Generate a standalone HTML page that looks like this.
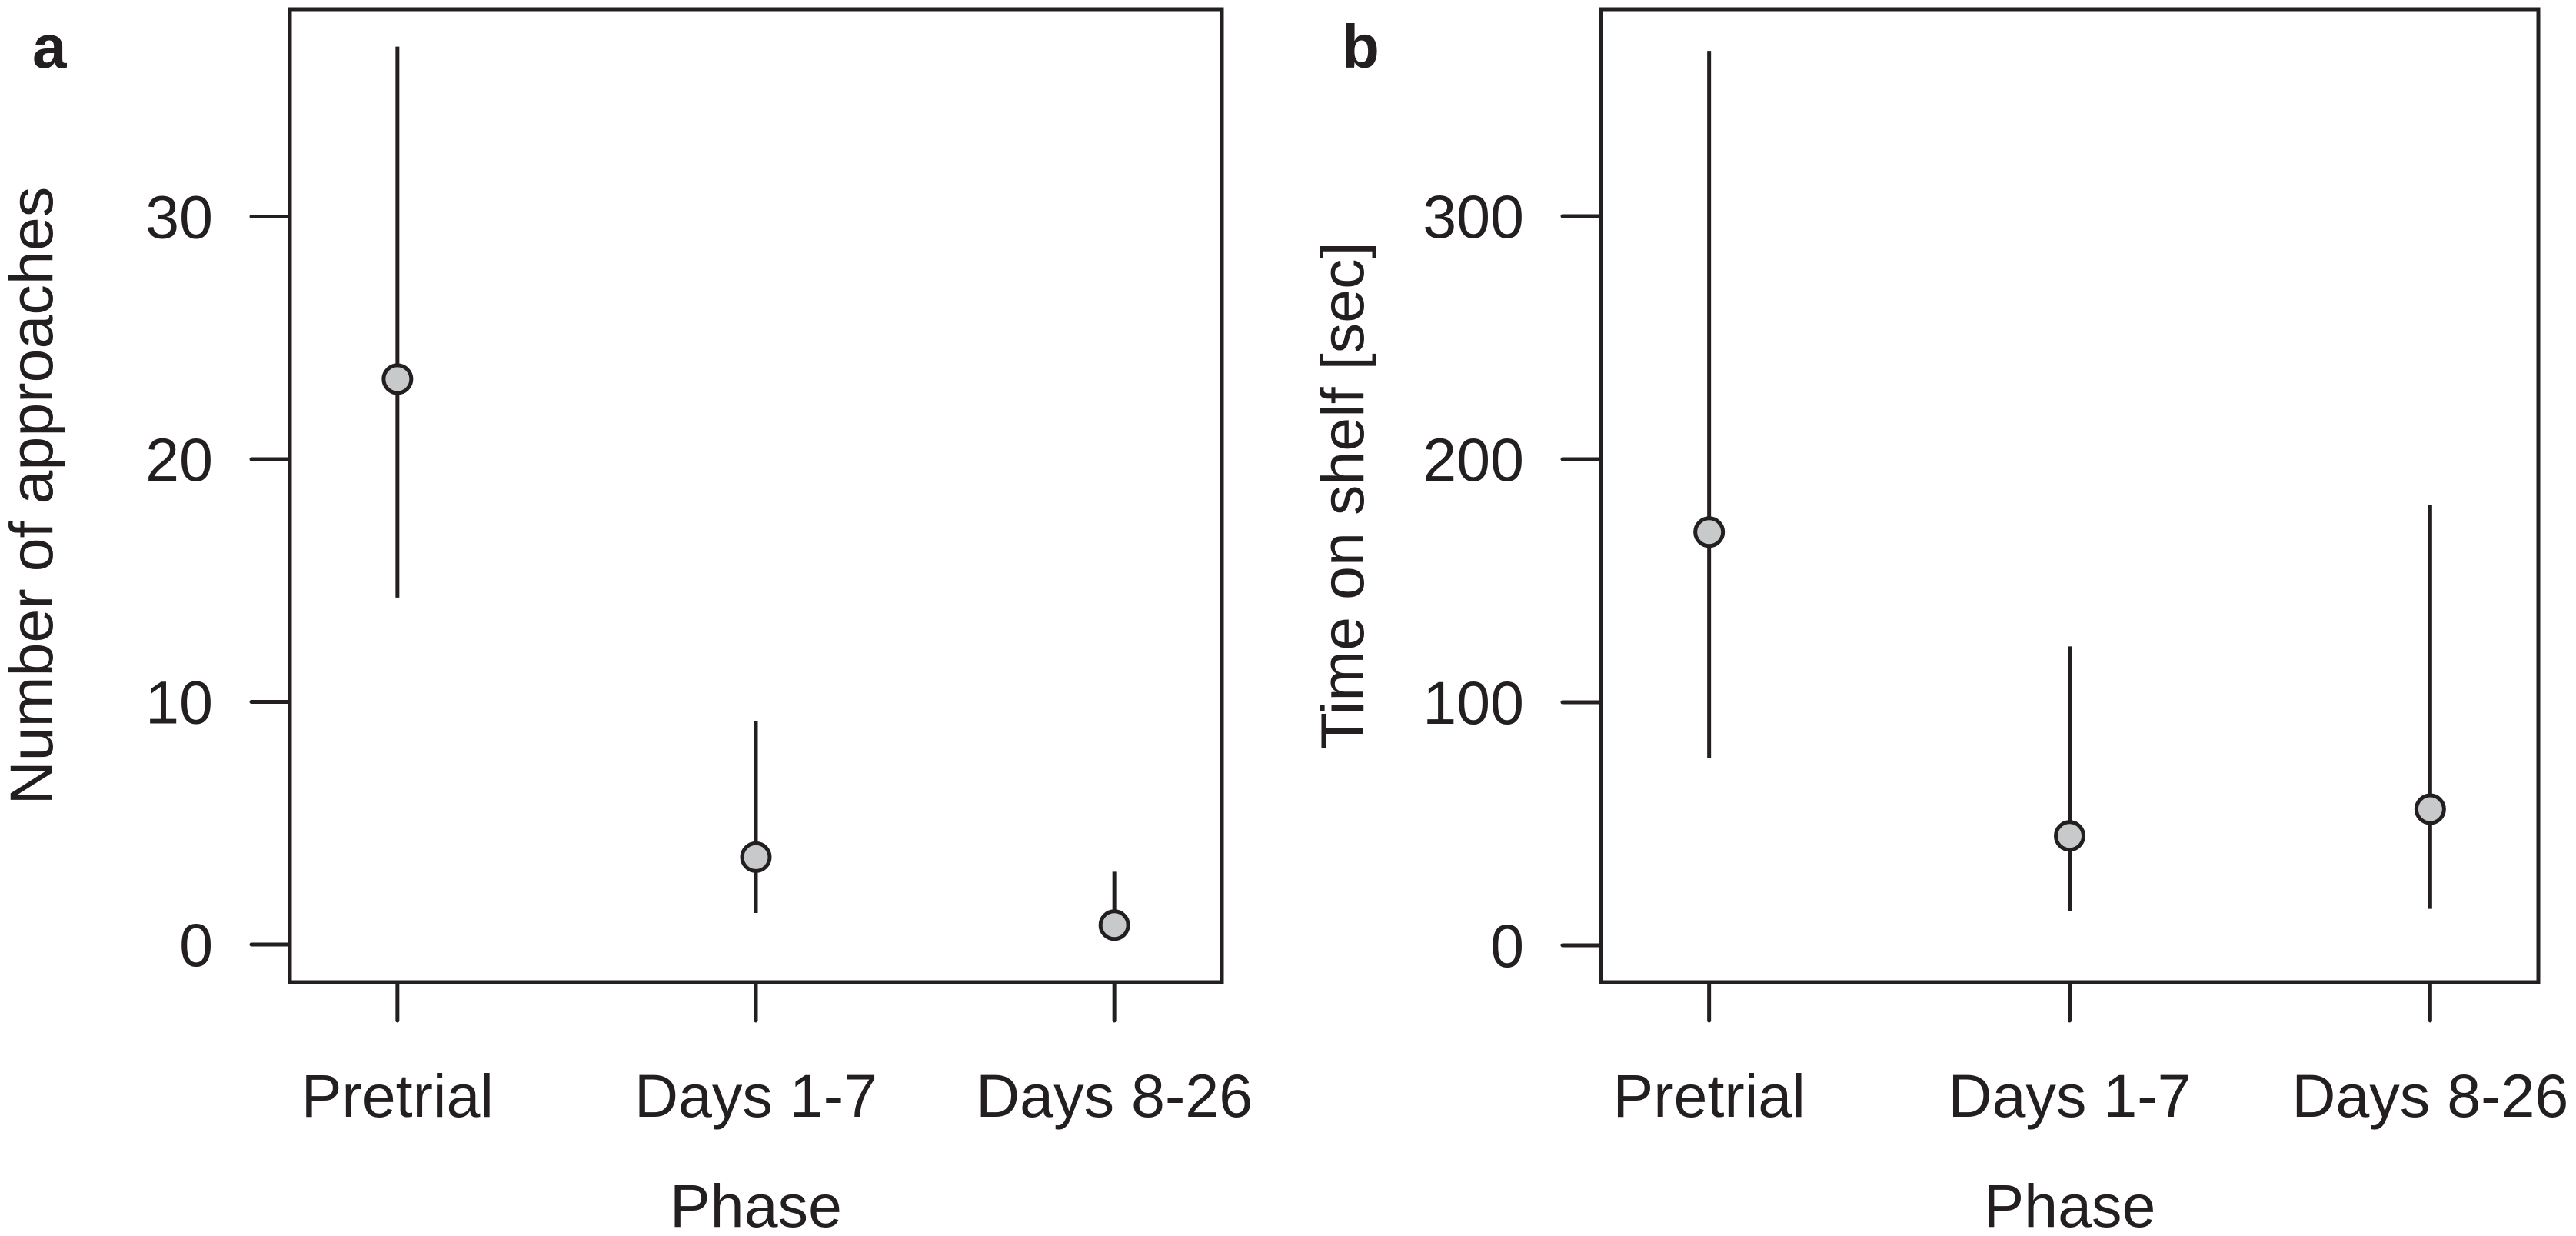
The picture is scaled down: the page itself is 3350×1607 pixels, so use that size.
<!DOCTYPE html>
<html><head><meta charset="utf-8"><style>
html,body{margin:0;padding:0;background:#fff}
svg{display:block}
text{font-family:"Liberation Sans",Arial,sans-serif;fill:#231f20}
</style></head><body>
<svg id="fig" width="3350" height="1607" viewBox="0 0 3350 1607" xmlns="http://www.w3.org/2000/svg"></svg>
<script>
const categories = ["Pretrial","Days 1-7","Days 8-26"];
const approachMean = [23.3, 3.6, 0.8];
const approachLow = [14.3, 1.3, 0.4];
const approachHigh = [37.0, 9.2, 3.0];
const approachTicks = [0, 10, 20, 30];
const shelfMean = [170, 45, 56];
const shelfLow = [77, 14, 15];
const shelfHigh = [368, 123, 181];
const shelfTicks = [0, 100, 200, 300];

const NS = "http://www.w3.org/2000/svg";
const svg = document.getElementById("fig");
const INK = "#231f20";
function mk(tag, attrs, parent){
  const e = document.createElementNS(NS, tag);
  for (const k in attrs) e.setAttribute(k, attrs[k]);
  (parent||svg).appendChild(e);
  return e;
}
function panel(opt){
  const g = mk("g", {});
  
  
  const L = opt.left, R = opt.right, T = 12, B = 1277;
  const xs = v => L + (v - 0.7) / 2.6 * (R - L);
  const ys = v => opt.y0 - v * opt.unit;
  const box = mk("rect", {x:L, y:T, width:R-L, height:B-T, fill:"none", stroke:INK, "stroke-width":5}, g);
  
  
  // y ticks
  opt.ticks.forEach(t => {
    const y = ys(t);
    const tk = mk("line", {x1:L-50, x2:L, y1:y, y2:y, stroke:INK, "stroke-width":5, "stroke-linecap":"round"}, g);
    
    
    const lb = mk("text", {x:L-100, y:y+28, "text-anchor":"end", "font-size":79}, g);
    lb.textContent = t;
    
    
  });
  // x ticks
  categories.forEach((c, i) => {
    const x = xs(i + 1);
    const tk = mk("line", {x1:x, x2:x, y1:B, y2:B+50, stroke:INK, "stroke-width":5, "stroke-linecap":"round"}, g);
    
    
    const lb = mk("text", {x:x, y:1452, "text-anchor":"middle", "font-size":79}, g);
    lb.textContent = c;
    
    
  });
  // series
  categories.forEach((c, i) => {
    const x = xs(i + 1);
    const ln = mk("line", {x1:x, x2:x, y1:ys(opt.low[i]), y2:ys(opt.high[i]), stroke:INK, "stroke-width":5}, g);
    
    
    const pt = mk("circle", {cx:x, cy:ys(opt.mean[i]), r:18, fill:"#c8c9cb", stroke:INK, "stroke-width":5}, g);
    
    
  });
  const xt = mk("text", {x:(L+R)/2, y:1595, "text-anchor":"middle", "font-size":79}, g);
  xt.textContent = "Phase";
  
  
  const cy = (T + B) / 2;
  const yt = mk("text", {x:0, y:0, "text-anchor":"middle", "font-size":79, transform:`translate(${L-309},${cy}) rotate(-90)`}, g);
  yt.textContent = opt.ytitle;
  
  
  const pl = mk("text", {x:opt.labelX, y:88, "font-size":80, "font-weight":"bold"}, g);
  pl.textContent = opt.letter;
  
  
}
panel({name:"panel-a", left:377, right:1589, y0:1228, unit:31.55, ticks:approachTicks,
  mean:approachMean, low:approachLow, high:approachHigh, ytitle:"Number of approaches", letter:"a", labelX:42});
panel({name:"panel-b", left:2082, right:3301, y0:1229, unit:3.16, ticks:shelfTicks,
  mean:shelfMean, low:shelfLow, high:shelfHigh, ytitle:"Time on shelf [sec]", letter:"b", labelX:1745});
</script>
</body></html>
